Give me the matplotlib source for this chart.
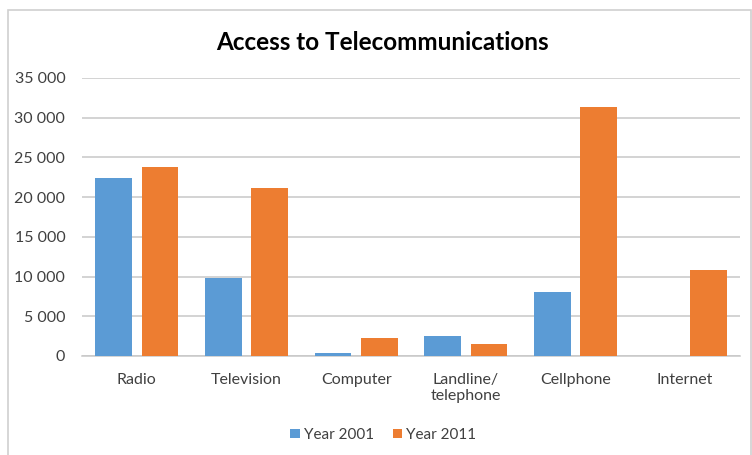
import numpy as np
import matplotlib
matplotlib.use("Agg")
import matplotlib.pyplot as plt
from matplotlib.patches import Rectangle
from matplotlib.ticker import FuncFormatter

# --- data ---
categories = ["Radio", "Television", "Computer", "Landline/\ntelephone", "Cellphone", "Internet"]
year_2001 = [22400, 9800, 400, 2500, 8100, 0]
year_2011 = [23800, 21200, 2300, 1500, 31400, 10800]
series_names = ["Year 2001", "Year 2011"]

plt.rcParams['font.family'] = ['Lato', 'DejaVu Sans']

fig = plt.figure(figsize=(7.52, 4.55), dpi=100)
ax = fig.add_axes([82 / 752, 0.2176, 658 / 752, 0.611])

# chart border
fig.patches.append(Rectangle((8 / 752, -0.01), 743 / 752, 1 - 10 / 455 + 0.01,
                             transform=fig.transFigure, fill=False,
                             edgecolor='#d0d0d0', linewidth=1.2))

x = np.arange(len(categories))
w = 0.333
gap = 0.09
ax.bar(x - (w + gap) / 2, year_2001, w, color='#5B9BD5', label=series_names[0], zorder=3)
ax.bar(x + (w + gap) / 2, year_2011, w, color='#ED7D31', label=series_names[1], zorder=3)

ax.set_xlim(-0.5, len(categories) - 0.5)
ax.set_ylim(0, 35000)
ax.set_yticks(np.arange(0, 35001, 5000))
ax.yaxis.set_major_formatter(FuncFormatter(lambda v, p: f"{int(v):,}".replace(",", " ")))
ax.set_xticks(x)
ax.set_xticklabels(categories)
ax.tick_params(axis='both', length=0, labelsize=11.5, colors='#404040')
ax.tick_params(axis='x', pad=12)
ax.tick_params(axis='y', pad=12)
ax.grid(axis='y', color='#c8c8c8', linewidth=1.1, zorder=0)
for s in ['top', 'right', 'left']:
    ax.spines[s].set_visible(False)
ax.spines['bottom'].set_color('#c8c8c8')
ax.spines['bottom'].set_linewidth(1.1)

fig.text(0.508, 1 - 43 / 455, "Access to Telecommunications", ha='center', va='center',
         fontsize=17.5, fontweight='bold', color='black')

fig.legend(loc='center', bbox_to_anchor=(0.51, 1 - 435 / 455), ncol=2, frameon=False,
           fontsize=11, handlelength=0.6, handleheight=0.6, handletextpad=0.3,
           columnspacing=1.2, labelcolor='#404040')

fig.savefig("out.png", dpi=100)
